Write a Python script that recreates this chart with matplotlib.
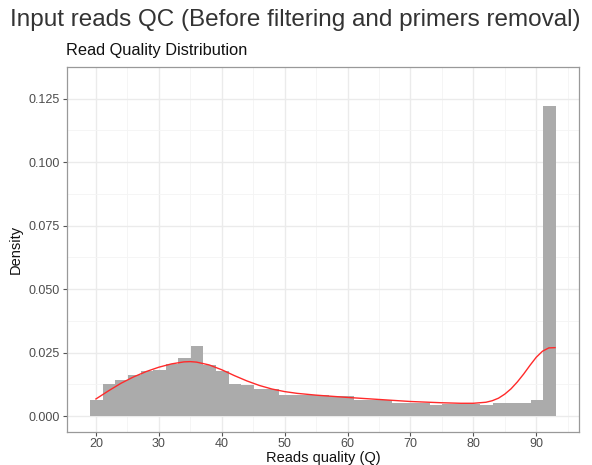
import matplotlib
matplotlib.use("Agg")
import matplotlib.pyplot as plt
import numpy as np

plt.rcParams["font.family"] = ["Liberation Sans", "DejaVu Sans"]

# histogram: bin width 2, first edge at 19.1
bin_start = 19.1
bin_width = 2.0
density = [
    0.0065, 0.0127, 0.0141, 0.0161, 0.0178, 0.0182, 0.0207, 0.0231, 0.0277, 0.0203,
    0.0178, 0.0127, 0.0124, 0.0108, 0.0106, 0.0084, 0.0083, 0.0082, 0.0084, 0.0078,
    0.0078, 0.0065, 0.0062, 0.0062, 0.0053, 0.0053, 0.0053, 0.0044, 0.0049, 0.0049,
    0.0049, 0.0044, 0.0053, 0.0053, 0.0053, 0.0065, 0.1222,
]

# smoothed density curve
kde_q = [20, 22, 24, 26, 28, 30, 32, 34, 35, 36, 38, 40, 42, 44, 46, 48, 50, 52, 55,
         60, 65, 70, 75, 78, 80, 82, 83, 84, 85, 86, 87, 88, 89, 90, 91, 92, 93]
kde_d = [0.0068, 0.0100, 0.0130, 0.0155, 0.0176, 0.0193, 0.0206, 0.0214, 0.0215, 0.0213,
         0.0202, 0.0183, 0.0160, 0.0139, 0.0121, 0.0107, 0.0097, 0.0090, 0.0083,
         0.0074, 0.0066, 0.0058, 0.0053, 0.0051, 0.0051, 0.0055, 0.0061, 0.0071, 0.0087,
         0.0108, 0.0135, 0.0166, 0.0200, 0.0232, 0.0256, 0.0269, 0.0270]

x_ticks = [20, 30, 40, 50, 60, 70, 80, 90]
y_ticks = [0.000, 0.025, 0.050, 0.075, 0.100, 0.125]

fig = plt.figure(figsize=(5.92, 4.65), dpi=100)
ax = fig.add_axes([0.1132, 0.0715, 0.978 - 0.1132, 0.856 - 0.0715])

lefts = bin_start + bin_width * np.arange(len(density))
ax.bar(lefts, density, width=bin_width, align="edge", color="#ababab", linewidth=0, zorder=2)
ax.plot(kde_q, kde_d, color="#ff2a2a", lw=1.0, zorder=3)

xmin, xmax = bin_start, bin_start + bin_width * len(density)
pad = (xmax - xmin) * 0.05
ax.set_xlim(xmin - pad, xmax + pad)
ymax = max(density)
ax.set_ylim(-ymax * 0.05, ymax * 1.05)

ax.set_xticks(x_ticks)
ax.set_yticks(y_ticks)
ax.set_yticklabels([f"{v:.3f}" for v in y_ticks])
ax.set_xticks([t + 5 for t in x_ticks], minor=True)
ax.set_yticks([v + 0.0125 for v in y_ticks], minor=True)
ax.grid(which="major", color="#ebebeb", lw=1.0, zorder=0)
ax.grid(which="minor", color="#f4f4f4", lw=0.6, zorder=0)
ax.set_axisbelow(True)

ax.tick_params(which="major", length=3, width=0.8, color="#555555",
               labelsize=9, labelcolor="#4d4d4d", pad=2)
ax.tick_params(axis="x", pad=1.5)
ax.tick_params(which="minor", length=0)
for s in ax.spines.values():
    s.set_color("#999999")
    s.set_linewidth(0.9)

ax.set_xlabel("Reads quality (Q)", fontsize=10.5, color="#111111", labelpad=1)
ax.set_ylabel("Density", fontsize=10.5, color="#111111", labelpad=4)

fig.text(10 / 592, 1 - 20 / 465, "Input reads QC (Before filtering and primers removal)",
         fontsize=17.5, color="#333333", va="center", ha="left")
fig.text(66 / 592, 1 - 50 / 465, "Read Quality Distribution",
         fontsize=11.8, color="#111111", va="center", ha="left")

fig.savefig("out.png", dpi=100)
